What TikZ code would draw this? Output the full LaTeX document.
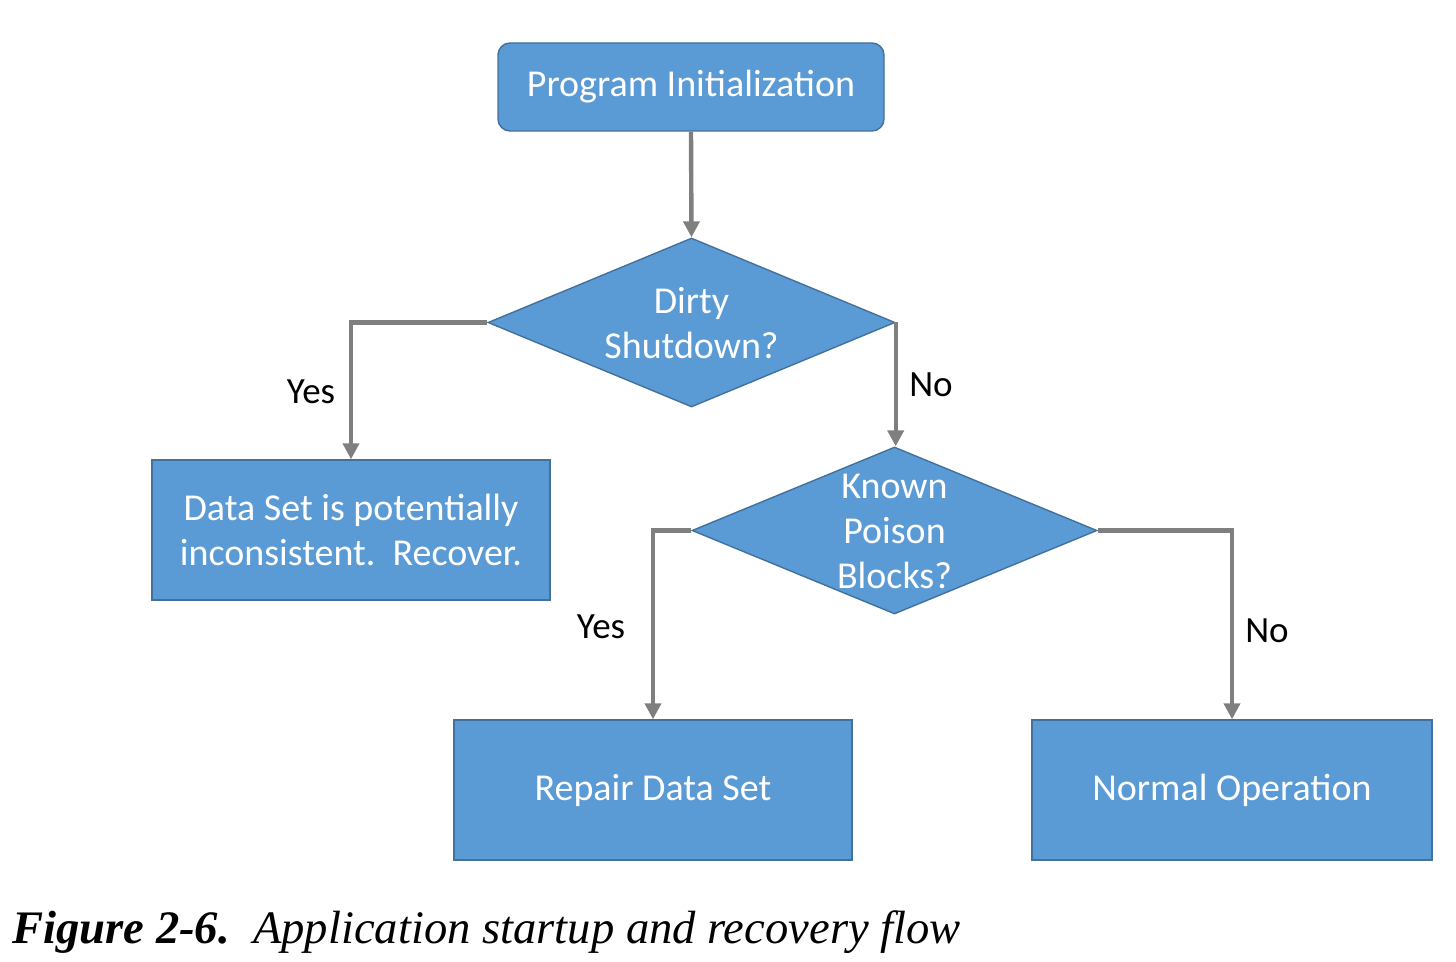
\documentclass[tikz,border=0pt]{standalone}
\usepackage{fontspec}
\setmainfont{Carlito}
\newfontfamily\capfont{Liberation Serif}
\usetikzlibrary{shapes.geometric,arrows.meta}
\definecolor{boxblue}{HTML}{5B9BD5}
\definecolor{boxedge}{HTML}{41719C}
\definecolor{arrowgray}{HTML}{7F7F7F}
\tikzset{
  box/.style={draw=boxedge, line width=0.7pt, fill=boxblue, text=white, align=center,
    inner sep=0pt, font=\fontsize{19}{22.5}\selectfont},
  rbox/.style={box, rounded corners=6pt},
  dia/.style={box, diamond, aspect=2.4},
  conn/.style={draw=arrowgray, line width=2.2pt, -{Triangle[width=8pt,length=8pt]}},
  lbl/.style={text=black, font=\fontsize{18.5}{20}\selectfont},
}
\begin{document}
\begin{tikzpicture}[x=0.5pt,y=-0.5pt]
\useasboundingbox (0,0) rectangle (1456,962);
% nodes
\node[rbox, minimum width=193pt, minimum height=44pt] (init) at (691,87) {Program Initialization};
\node[dia, minimum width=203.5pt, minimum height=84.5pt] (d1) at (691.5,322.5) {};
\node[box, draw=none, fill=none] (d1t) at (691.5,323.5) {Dirty\\Shutdown?};
\node[box, minimum width=199pt, minimum height=70pt] (dset) at (351,530) {Data Set is potentially\\inconsistent.\ \ Recover.};
\node[dia, minimum width=202.5pt, minimum height=83.5pt] (d2) at (894.5,530.5) {};
\node[box, draw=none, fill=none] (d2t) at (894.5,531) {Known\\Poison\\Blocks?};
\node[box, minimum width=199pt, minimum height=70pt] (repair) at (653,790) {Repair Data Set};
\node[box, minimum width=200pt, minimum height=70pt] (normal) at (1232,790) {Normal Operation};
% connectors
\draw[conn] (init.south) -- (d1.north);
\draw[conn] (d1.west) -| (dset.north);
\draw[conn] (d1.east) -- (d1.east |- d2.north);
\draw[conn] (d2.west) -| (repair.north);
\draw[conn] (d2.east) -| (normal.north);
% labels
\node[lbl] (l1) at (311,392) {Yes};
\node[lbl] (l2) at (931,385) {No};
\node[lbl] (l3) at (601,627) {Yes};
\node[lbl] (l4) at (1267,631) {No};
% caption
\node[anchor=base west, inner sep=0pt, font=\capfont\fontsize{23.3}{26}\selectfont] (cap) at (12,943)
  {\textbf{\textit{Figure 2-6.}}\ \ \textit{Application startup and recovery flow}};
\end{tikzpicture}
\end{document}
